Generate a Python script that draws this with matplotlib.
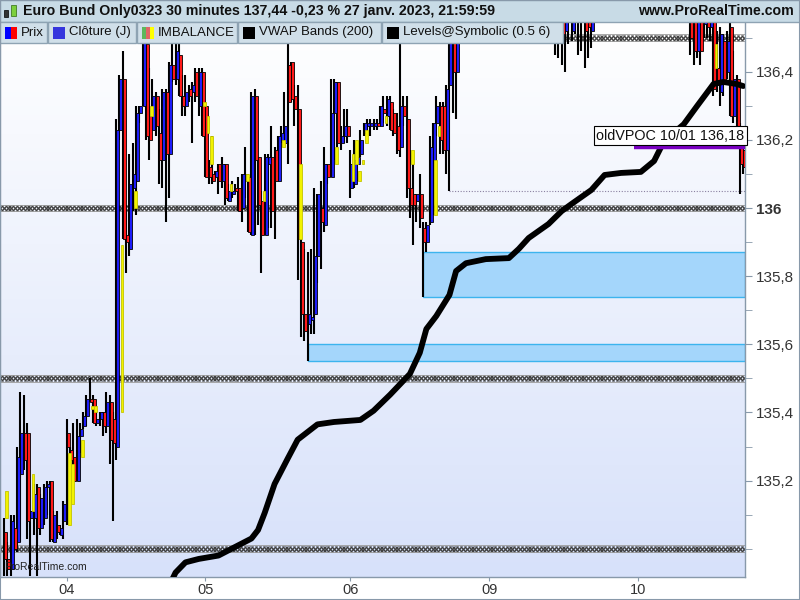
#!/usr/bin/env python3
"""
Euro Bund 30 minutes chart (ProRealTime style) rebuilt with matplotlib
"""

import matplotlib
matplotlib.use('Agg')
import matplotlib.pyplot as plt
import numpy as np
from matplotlib.patches import Rectangle
from matplotlib.colors import LinearSegmentedColormap

plt.rcParams['font.family'] = ['Liberation Sans', 'DejaVu Sans']

# --- price bars (30 min) ----------------------------------------------------
bar_open = [
    135.05, 134.97, 134.94, 135.06, 135.02, 135.22, 135.34, 135.34, 135.09, 135.09,
    135.18, 135.06, 135.09, 135.18, 135.20, 135.02, 135.07, 135.04, 135.08, 135.34,
    135.29, 135.27, 135.20, 135.33, 135.36, 135.39, 135.44, 135.44, 135.37, 135.38,
    135.40, 135.36, 135.43, 135.38, 135.30, 136.23, 136.38, 135.92, 135.88, 136.06,
    136.08, 136.28, 136.30, 136.48, 136.27, 136.23, 136.33, 136.22, 136.14, 136.34,
    136.16, 136.42, 136.38, 136.45, 136.33, 136.30, 136.35, 136.34, 136.40, 136.30,
    136.40, 136.30, 136.12, 136.10, 136.09, 136.13, 136.08, 136.13, 136.02, 136.04,
    136.06, 136.06, 136.00, 136.08, 136.09, 135.92, 136.33, 136.15, 136.02, 135.92,
    136.13, 136.15, 136.17, 136.08, 136.20, 136.19, 136.42, 136.43, 136.33, 136.29,
    135.90, 135.69, 135.66, 135.67, 135.69, 135.86, 136.00, 135.95, 136.13, 136.09,
    136.28, 136.37, 136.19, 136.21, 136.24, 136.06, 136.07, 136.13, 136.16, 136.22,
    136.24, 136.24, 136.24, 136.25, 136.24, 136.29, 136.27, 136.31, 136.28, 136.24,
    136.18, 136.30, 136.26, 136.06, 136.04, 136.02, 136.04, 135.94, 135.90, 135.96,
    136.14, 136.25, 136.30, 136.30, 136.17, 136.36, 136.60, 136.40,
    136.62, 136.70, 136.74, 136.80, 136.77, 136.84, 136.88, 136.85, 136.90, 136.94,
    136.91, 136.96, 136.93, 136.89, 136.92, 136.87, 136.84, 136.88, 136.85, 136.80,
    136.76, 136.79, 136.74, 136.70, 136.73, 136.68, 136.65, 136.67, 136.63,
    136.60, 136.55, 136.58, 136.52, 136.60, 136.52, 136.62, 136.64, 136.58, 136.63,
    136.60, 136.52,
    136.62, 136.66, 136.70, 136.75, 136.72, 136.78, 136.82, 136.79, 136.85, 136.88,
    136.84, 136.80, 136.83, 136.86, 136.82, 136.78, 136.81, 136.77, 136.73, 136.76,
    136.72, 136.69, 136.73, 136.70, 136.67, 136.71, 136.68, 136.65, 136.69,
    136.62, 136.65, 136.46, 136.62, 136.54, 136.63, 136.53, 136.60, 136.41, 136.34,
    136.49, 136.40, 136.53, 136.27, 136.38, 136.24, 136.17,
]
bar_high = [
    135.09, 135.02, 135.10, 135.10, 135.30, 135.46, 135.45, 135.37, 135.11, 135.19,
    135.19, 135.16, 135.19, 135.20, 135.20, 135.11, 135.11, 135.07, 135.14, 135.38,
    135.30, 135.37, 135.38, 135.37, 135.40, 135.45, 135.50, 135.45, 135.41, 135.40,
    135.40, 135.46, 135.45, 135.40, 136.26, 136.39, 136.46, 136.01, 136.16, 136.19,
    136.30, 136.30, 136.49, 136.49, 136.41, 136.38, 136.34, 136.29, 136.35, 136.35,
    136.43, 136.49, 136.49, 136.48, 136.39, 136.39, 136.36, 136.37, 136.41, 136.41,
    136.41, 136.31, 136.14, 136.21, 136.11, 136.13, 136.15, 136.13, 136.07, 136.08,
    136.07, 136.09, 136.10, 136.18, 136.09, 136.34, 136.35, 136.15, 136.05, 136.16,
    136.16, 136.24, 136.18, 136.21, 136.24, 136.34, 136.48, 136.43, 136.36, 136.36,
    135.91, 135.88, 135.87, 135.88, 136.06, 136.04, 136.08, 136.18, 136.13, 136.38,
    136.38, 136.37, 136.24, 136.29, 136.29, 136.17, 136.20, 136.19, 136.23, 136.25,
    136.26, 136.26, 136.26, 136.26, 136.30, 136.33, 136.33, 136.33, 136.29, 136.28,
    136.49, 136.33, 136.33, 136.17, 136.16, 136.04, 136.10, 135.96, 135.96, 136.21,
    136.25, 136.33, 136.31, 136.31, 136.36, 136.60, 136.62, 136.63,
    136.73, 136.77, 136.83, 136.82, 136.86, 136.91, 136.90, 136.93, 136.97, 136.96,
    136.99, 136.97, 136.95, 136.95, 136.94, 136.89, 136.90, 136.90, 136.87, 136.82,
    136.81, 136.81, 136.76, 136.75, 136.75, 136.70, 136.69, 136.69, 136.66,
    136.66, 136.62, 136.64, 136.63, 136.66, 136.65, 136.68, 136.70, 136.66, 136.67,
    136.68, 136.66,
    136.69, 136.73, 136.78, 136.78, 136.81, 136.85, 136.85, 136.88, 136.91, 136.90,
    136.86, 136.86, 136.89, 136.88, 136.84, 136.84, 136.83, 136.79, 136.79, 136.78,
    136.75, 136.76, 136.75, 136.73, 136.74, 136.73, 136.71, 136.72, 136.72,
    136.68, 136.70, 136.66, 136.64, 136.68, 136.66, 136.62, 136.62, 136.52, 136.53,
    136.51, 136.52, 136.55, 136.46, 136.39, 136.25, 136.22,
]
bar_low = [
    134.92, 134.92, 134.92, 134.99, 134.99, 135.02, 135.23, 135.03, 134.92, 135.04,
    134.92, 135.04, 135.07, 135.10, 135.02, 135.02, 135.03, 135.04, 135.03, 135.07,
    135.24, 135.20, 135.20, 135.28, 135.35, 135.36, 135.43, 135.37, 135.36, 135.36,
    135.33, 135.34, 135.25, 135.08, 135.26, 136.20, 135.91, 135.81, 135.86, 135.99,
    135.98, 136.25, 136.30, 136.20, 136.14, 136.23, 136.21, 136.07, 136.06, 135.96,
    136.03, 136.37, 136.36, 136.33, 136.27, 136.27, 136.31, 136.19, 136.31, 136.27,
    136.21, 136.09, 136.07, 136.07, 136.09, 136.04, 136.06, 136.01, 136.02, 136.03,
    136.05, 135.99, 135.96, 136.03, 135.93, 135.92, 135.92, 135.95, 135.81, 135.92,
    135.94, 135.94, 135.91, 136.08, 136.19, 136.19, 136.13, 136.31, 136.24, 135.79,
    135.62, 135.61, 135.55, 135.63, 135.63, 135.78, 135.82, 135.93, 136.07, 136.09,
    136.14, 136.18, 136.17, 136.19, 136.19, 136.03, 136.06, 136.08, 136.15, 136.21,
    136.21, 136.21, 136.23, 136.23, 136.24, 136.25, 136.24, 136.23, 136.21, 136.16,
    136.15, 136.24, 136.03, 135.97, 135.89, 135.96, 135.94, 135.74, 135.87, 135.95,
    135.98, 136.21, 136.16, 136.16, 136.10, 136.05, 136.28, 136.26,
    136.59, 136.67, 136.71, 136.75, 136.74, 136.81, 136.83, 136.82, 136.87, 136.89,
    136.89, 136.91, 136.87, 136.87, 136.85, 136.82, 136.82, 136.83, 136.78, 136.74,
    136.74, 136.71, 136.68, 136.68, 136.66, 136.63, 136.62, 136.61, 136.58,
    136.45, 136.44, 136.42, 136.40, 136.48, 136.49, 136.51, 136.45, 136.46, 136.41,
    136.44, 136.47,
    136.59, 136.63, 136.67, 136.69, 136.69, 136.75, 136.76, 136.76, 136.82, 136.81,
    136.77, 136.77, 136.80, 136.79, 136.75, 136.75, 136.74, 136.70, 136.70, 136.69,
    136.66, 136.66, 136.67, 136.64, 136.64, 136.65, 136.62, 136.62, 136.61,
    136.45, 136.42, 136.44, 136.42, 136.50, 136.50, 136.49, 136.33, 136.34, 136.30,
    136.33, 136.38, 136.27, 136.25, 136.24, 136.04, 136.10,
]
bar_close = [
    134.97, 134.94, 135.08, 135.00, 135.27, 135.34, 135.26, 135.08, 135.11, 135.16,
    135.06, 135.15, 135.18, 135.19, 135.03, 135.10, 135.05, 135.06, 135.13, 135.30,
    135.26, 135.20, 135.33, 135.35, 135.39, 135.44, 135.43, 135.37, 135.38, 135.40,
    135.36, 135.43, 135.32, 135.31, 136.23, 136.38, 135.91, 135.90, 136.07, 136.10,
    136.28, 136.30, 136.49, 136.21, 136.20, 136.33, 136.24, 136.14, 136.34, 136.16,
    136.42, 136.38, 136.46, 136.33, 136.30, 136.34, 136.33, 136.36, 136.33, 136.40,
    136.21, 136.09, 136.09, 136.08, 136.11, 136.08, 136.13, 136.03, 136.05, 136.05,
    136.05, 135.99, 136.10, 136.10, 135.93, 136.33, 136.14, 136.01, 135.92, 136.15,
    136.15, 135.99, 136.08, 136.21, 136.22, 136.24, 136.31, 136.32, 136.29, 135.91,
    135.69, 135.64, 135.69, 135.68, 135.86, 136.04, 135.96, 136.13, 136.09, 136.28,
    136.37, 136.19, 136.21, 136.24, 136.21, 136.13, 136.14, 136.15, 136.20, 136.25,
    136.25, 136.25, 136.25, 136.24, 136.30, 136.28, 136.32, 136.23, 136.22, 136.17,
    136.30, 136.27, 136.06, 136.01, 136.01, 136.04, 135.97, 135.90, 135.95, 136.18,
    136.25, 136.30, 136.20, 136.17, 136.35, 136.49, 136.40, 136.62,
    136.70, 136.74, 136.80, 136.77, 136.84, 136.88, 136.85, 136.90, 136.94, 136.91,
    136.96, 136.93, 136.89, 136.92, 136.87, 136.84, 136.88, 136.85, 136.80, 136.76,
    136.79, 136.74, 136.70, 136.73, 136.68, 136.65, 136.67, 136.63, 136.60,
    136.55, 136.58, 136.51, 136.60, 136.62, 136.62, 136.64, 136.58, 136.63, 136.52,
    136.53, 136.62,
    136.66, 136.70, 136.75, 136.72, 136.78, 136.82, 136.79, 136.85, 136.88, 136.84,
    136.80, 136.83, 136.86, 136.82, 136.78, 136.81, 136.77, 136.73, 136.76, 136.72,
    136.69, 136.73, 136.70, 136.67, 136.71, 136.68, 136.65, 136.69, 136.64,
    136.50, 136.46, 136.62, 136.46, 136.65, 136.53, 136.60, 136.35, 136.36, 136.51,
    136.37, 136.49, 136.27, 136.38, 136.24, 136.13, 136.12,
]

# IMBALANCE markers (bar index, low, high)
imb_bar = [0, 8, 19, 20, 23, 26, 27, 35, 39, 44, 60, 61, 62, 68, 73, 78, 84, 89,
           100, 105, 106, 107, 108, 109, 115, 123, 130, 131, 215]
imb_low = [135.09, 135.11, 135.07, 135.13, 135.27, 135.41, 135.40, 135.40, 136.00,
           136.27, 136.30, 136.22, 136.13, 136.05, 136.08, 136.02, 136.18, 135.91,
           136.13, 136.08, 136.13, 136.08, 136.13, 136.19, 136.25, 136.13, 135.98,
           136.21, 136.41]
imb_high = [135.17, 135.22, 135.28, 135.25, 135.32, 135.42, 135.42, 135.89, 136.05,
            136.30, 136.31, 136.27, 136.21, 136.07, 136.10, 136.05, 136.20, 136.13,
            136.18, 136.16, 136.20, 136.11, 136.14, 136.23, 136.27, 136.17, 136.14,
            136.24, 136.48]

# VWAP (200) line
vwap_bar = [50, 52, 55, 59, 65, 70, 75, 77, 79, 82, 86, 89, 95, 100, 108, 112, 117,
            123, 126, 127, 128, 131, 135, 137, 140, 146, 153, 156, 159, 165, 169,
            172, 178, 182, 187, 193, 197, 200, 206, 210, 215, 218, 222, 224]
vwap_val = [134.89, 134.93, 134.96, 134.97, 134.98, 135.005, 135.03, 135.055, 135.105,
            135.19, 135.265, 135.32, 135.365, 135.372, 135.378, 135.405, 135.452,
            135.513, 135.575, 135.61, 135.645, 135.683, 135.745, 135.815, 135.838,
            135.85, 135.853, 135.88, 135.912, 135.953, 135.991, 136.012, 136.053,
            136.097, 136.103, 136.106, 136.138, 136.196, 136.246, 136.299, 136.364,
            136.37, 136.364, 136.358]

# Levels@Symbolic round numbers
levels = [136.5, 136.0, 135.5, 135.0]

# untested zones (start bar, low, high)
zone_bar = [92, 127]
zone_low = [135.55, 135.74]
zone_high = [135.60, 135.87]

# other markers
untested_low_bar = 135
untested_low = 136.05
old_vpoc_bar = 191
old_vpoc = 136.18
old_vpoc_label = 'oldVPOC 10/01 136,18'

# axis
day_bars = [19, 61, 105, 147, 192]
day_labels = ['04', '05', '06', '09', '10']
price_ticks = [135.2, 135.4, 135.6, 135.8, 136.0, 136.2, 136.4]
price_minor = [135.0, 135.1, 135.3, 135.5, 135.7, 135.9, 136.1, 136.3, 136.5]

title = 'Euro Bund Only0323 30 minutes 137,44 -0,23 % 27 janv. 2023, 21:59:59'
site = 'www.ProRealTime.com'
legend_items = ['Prix', 'Clôture (J)', 'IMBALANCE', 'VWAP Bands (200)', 'Levels@Symbolic (0.5 6)']

assert len(bar_open) == len(bar_high) == len(bar_low) == len(bar_close)

W, H = 800, 600
X0, X1 = -1.2, 224.55
Y0, Y1 = 134.917, 136.546
GRID = '#8899aa'


def fx(px):
    return px / W


def fy(py):
    return 1 - py / H


def price_label(v):
    if abs(v - round(v)) < 1e-6:
        return '%d' % round(v)
    return ('%.1f' % v).replace('.', ',')


fig = plt.figure(figsize=(8, 6), dpi=100)
ax = fig.add_axes([0, fy(577), fx(745), (577 - 22) / H])
ax.set_xlim(X0, X1)
ax.set_ylim(Y0, Y1)

# background gradient
bg = LinearSegmentedColormap.from_list('bg', ['#ffffff', '#d7e1fa'])
ax.imshow(np.linspace(0, 1, 256).reshape(-1, 1), extent=[X0, X1, Y0, Y1],
          aspect='auto', cmap=bg, origin='upper', zorder=0)

# untested zones
for b, lo, hi in zip(zone_bar, zone_low, zone_high):
    ax.add_patch(Rectangle((b, lo), X1 - b, hi - lo, facecolor='#a4d6fb',
                           edgecolor='#3cb4ee', linewidth=1.0, zorder=1))

# round-number levels: chain of small crosses
chain_x = np.arange(X0, X1 + 1, 1.15)
for lvl in levels:
    ax.plot(chain_x, np.full(chain_x.shape, lvl), linestyle='none', marker='x',
            markersize=4.6, markeredgewidth=0.9, color='#404040', zorder=2)
    ax.hlines([lvl - 0.0095, lvl + 0.0095], X0, X1, colors='#9a9a9a',
              linewidth=0.6, zorder=2)

# untested low dotted line
ax.hlines(untested_low, untested_low_bar, X1, colors='#8a80a0',
          linestyles=(0, (1, 1.5)), linewidth=0.8, zorder=2)

# candles
o = np.array(bar_open)
h = np.array(bar_high)
l = np.array(bar_low)
c = np.array(bar_close)
x = np.arange(len(o))
body_col = np.where(c >= o, '#1e1efa', '#ff1a1a')
ax.vlines(x, l, h, color='black', linewidth=1.5, zorder=3)
ax.bar(x, np.maximum(np.abs(c - o), 0.004), bottom=np.minimum(o, c), width=0.9,
       align='edge', color=body_col, edgecolor='black', linewidth=0.6, zorder=4)

# imbalance markers
ib = np.array(imb_bar)
ax.bar(ib + 0.4, np.array(imb_high) - np.array(imb_low), bottom=imb_low, width=0.8,
       align='edge', color='#f2f200', edgecolor='#c4c400', linewidth=0.6, zorder=5)

# VWAP
ax.plot(vwap_bar, vwap_val, color='black', linewidth=4.2, solid_capstyle='round',
        solid_joinstyle='round', zorder=7)

# old VPOC
ax.hlines(old_vpoc, old_vpoc_bar, X1, colors='#7a00c2', linewidth=3.2, zorder=8)
ax.text(X1 - 0.2, old_vpoc + 0.012, old_vpoc_label, ha='right', va='bottom',
        fontsize=10.4, color='#111111', zorder=9,
        bbox=dict(boxstyle='square,pad=0.18', fc='white', ec='black', lw=0.8))

ax.text(0.006, 0.012, 'ProRealTime.com', transform=ax.transAxes, fontsize=7.5,
        color='#222222', zorder=9)

# axes styling
ax.yaxis.tick_right()
ax.set_yticks(price_ticks)
ax.set_yticklabels([price_label(v) for v in price_ticks])
ax.set_yticks(price_minor, minor=True)
for t, v in zip(ax.get_yticklabels(), price_ticks):
    if abs(v - round(v)) < 1e-6:
        t.set_fontweight('bold')
ax.set_xticks(day_bars)
ax.set_xticklabels(day_labels)
ax.tick_params(axis='y', which='both', direction='out', length=5, color=GRID,
               labelsize=11, labelcolor='#333333', pad=3)
ax.tick_params(axis='x', direction='out', length=3, color=GRID,
               labelsize=10.5, labelcolor='#333333', pad=1)
for side in ['top']:
    ax.spines[side].set_visible(False)
for side in ['left', 'right', 'bottom']:
    ax.spines[side].set_color(GRID)
    ax.spines[side].set_linewidth(1.0)

# header bar
fig.add_artist(Rectangle((0, fy(22)), 1, 22 / H, transform=fig.transFigure,
                         facecolor='#c8dbe6', edgecolor='#8ea3b3', linewidth=1, zorder=10))
# little candlestick icon
fig.add_artist(Rectangle((fx(4), fy(17)), 4 / W, 7 / H, transform=fig.transFigure,
                         facecolor='#333333', edgecolor='black', linewidth=0.5, zorder=11))
fig.add_artist(Rectangle((fx(11), fy(16)), 5 / W, 11 / H, transform=fig.transFigure,
                         facecolor='#7ccf3c', edgecolor='#2f6a10', linewidth=0.5, zorder=11))
fig.text(fx(23), fy(11), title, fontsize=10.2, fontweight='bold', color='#111111',
         va='center', ha='left', zorder=12)
fig.text(fx(794), fy(11), site, fontsize=10.2, fontweight='bold', color='#111111',
         va='center', ha='right', zorder=12)

# legend row
legend_box = [(0, 47), (48, 136), (137, 237), (238, 381), (382, 563)]
swatches = [['#0000ff', '#ff0000'], ['#3535dd'], ['#5cb85c', '#e06666', '#ffff00'],
            ['black'], ['black']]
for (x_a, x_b), name, cols in zip(legend_box, legend_items, swatches):
    fig.add_artist(Rectangle((fx(x_a), fy(43)), (x_b - x_a) / W, 21 / H,
                             transform=fig.transFigure, facecolor='#d0dfe9',
                             edgecolor='#8ea3b3', linewidth=1, zorder=10))
    sw = 12 / len(cols)
    for k, col in enumerate(cols):
        fig.add_artist(Rectangle((fx(x_a + 5 + k * sw), fy(39)), sw / W, 12 / H,
                                 transform=fig.transFigure, facecolor=col,
                                 edgecolor='none', zorder=11))
    fig.text(fx(x_a + 21), fy(32.5), name, fontsize=9.5, color='#111111',
             va='center', ha='left', zorder=12)

# outer frame
fig.add_artist(Rectangle((0, 0), 1, 1, transform=fig.transFigure, fill=False,
                         edgecolor=GRID, linewidth=1.5, zorder=13))

fig.savefig('out.png', dpi=100, facecolor='white')
plt.close(fig)
